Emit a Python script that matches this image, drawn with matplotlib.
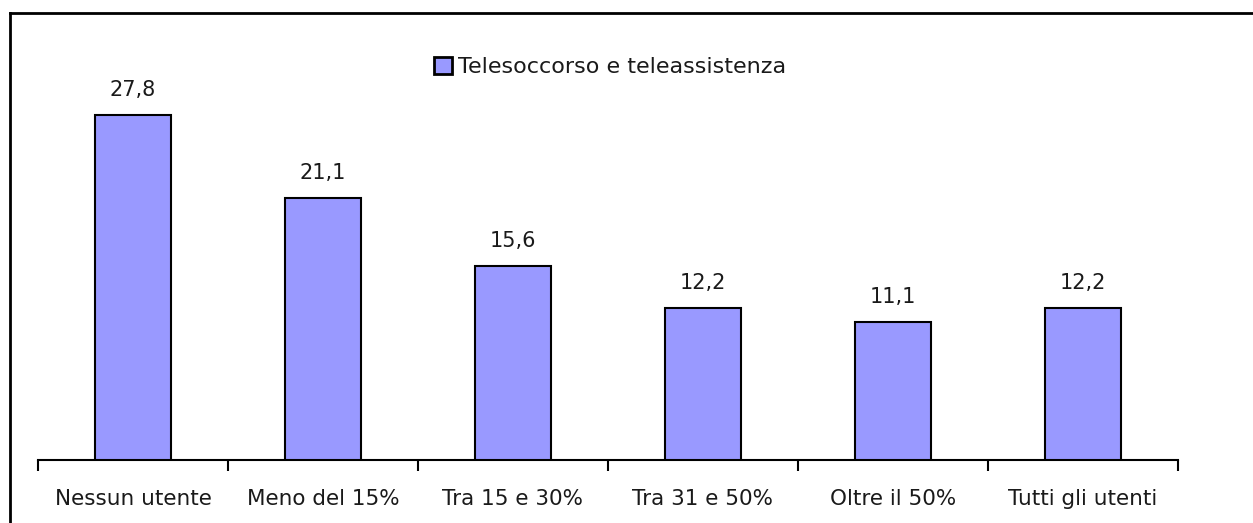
import matplotlib.pyplot as plt
from matplotlib.lines import Line2D
from matplotlib.patches import Patch

categories = ["Nessun utente", "Meno del 15%", "Tra 15 e 30%", "Tra 31 e 50%", "Oltre il 50%", "Tutti gli utenti"]
values = [27.8, 21.1, 15.6, 12.2, 11.1, 12.2]
series_name = "Telesoccorso e teleassistenza"

W, H = 1253, 523
fig = plt.figure(figsize=(W / 100, H / 100), dpi=100)
plt.rcParams['font.family'] = ['DejaVu Sans']

# outer frame (left and top visible)
fig.add_artist(Line2D([10 / W, 10 / W], [0, 1 - 13 / H], transform=fig.transFigure, color='black', lw=2))
fig.add_artist(Line2D([10 / W, 1], [1 - 13 / H, 1 - 13 / H], transform=fig.transFigure, color='black', lw=2))

left, right = 38 / W, 1178 / W
bottom, top = 1 - 459.5 / H, 1 - 87.7 / H
ax = fig.add_axes([left, bottom, right - left, top - bottom])

x = list(range(len(categories)))
bars = ax.bar(x, values, width=0.405, color='#9999FF', edgecolor='black', linewidth=1.5, zorder=3)
ax.set_xlim(-0.5, len(categories) - 0.5)
ax.set_ylim(0, 30)

for xi, v in zip(x, values):
    ax.annotate(f"{v:.1f}".replace('.', ','), (xi, v), xytext=(0, 11), textcoords='offset points',
                ha='center', va='bottom', fontsize=15, color='#1a1a1a')

for s in ['top', 'right', 'left']:
    ax.spines[s].set_visible(False)
ax.spines['bottom'].set_linewidth(1.5)
ax.set_yticks([])
ax.set_xticks([i - 0.5 for i in range(len(categories) + 1)], minor=False)
ax.set_xticklabels([])
ax.tick_params(axis='x', which='major', length=8, width=1.5, direction='out')
ax.set_xticks(x, minor=True)
ax.set_xticklabels(categories, minor=True, fontsize=15.5, color='#1a1a1a')
ax.tick_params(axis='x', which='minor', length=0, pad=21)

leg_handle = Patch(facecolor='#9999FF', edgecolor='black', linewidth=2)
fig.legend([leg_handle], [series_name], loc='center', bbox_to_anchor=(610 / W, 1 - 67 / H),
           frameon=False, fontsize=16, handlelength=0.8, handleheight=0.8, handletextpad=0.25,
           labelcolor='#1a1a1a')

fig.savefig('out.png', dpi=100)
